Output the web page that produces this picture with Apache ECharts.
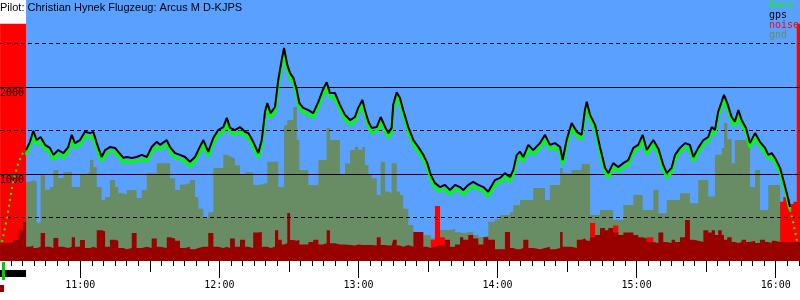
<!DOCTYPE html>
<html><head><meta charset="utf-8">
<script src="https://cdn.jsdelivr.net/npm/echarts@6/dist/echarts.min.js"></script>
<style>html,body{margin:0;padding:0;background:#fff}#c{width:800px;height:300px}</style>
</head><body><div id="c"></div><script>
const titleText = 'Pilot: Christian Hynek Flugzeug: Arcus M D-KJPS';
const legendNames = ['baro', 'gps', 'noise', 'gnd'];

// time axis in minutes after midnight
const xMin = 625.36, xMax = 970.49;
const flightStart = 636.6;
const engineRun = [625.36, 636.6];
const takeoffMark = [626.2, 627.5];
const startMark = [625.36, 627.1];

const times = [
625.4, 626.2, 628.4, 631.1, 633.3, 635.4,
636.6, 638.3, 639.7, 641.2, 642.9, 644.8, 646.9, 648.4, 650.5, 652.7,
654.8, 656.3, 657.7, 659.9, 662.0, 664.2, 665.6, 667.1, 669.2, 670.7,
672.8, 675.0, 676.4, 678.6, 680.0, 682.2, 684.3, 686.5, 688.7, 690.8,
693.0, 694.4, 697.3, 698.7, 700.9, 703.0, 705.2, 707.3, 709.5, 710.9,
713.1, 715.2, 717.4, 719.5, 721.7, 723.2, 724.6, 726.7, 728.9, 731.1,
732.5, 734.6, 736.8, 738.3, 739.7, 740.7, 742.1, 744.0, 745.4, 746.9,
747.9, 749.3, 750.5, 751.9, 753.4, 754.5, 756.2, 758.4, 760.5, 762.7,
764.6, 766.3, 767.7, 769.9, 772.0, 774.2, 776.4, 778.5, 779.9, 781.7,
782.8, 784.3, 785.7, 787.9, 789.6, 791.5, 792.9, 794.3, 795.0, 796.5,
797.9, 799.3, 801.5, 803.7, 805.8, 808.0, 809.7, 811.2, 813.0, 815.2,
817.3, 819.5, 821.7, 823.8, 825.2, 827.4, 829.5, 831.7, 833.9, 836.0,
838.9, 841.1, 843.2, 845.4, 846.8, 848.3, 849.7, 851.1, 853.3, 855.4,
858.3, 860.5, 862.6, 864.8, 867.0, 868.1, 869.8, 872.0, 874.2, 876.3,
877.7, 878.5, 879.9, 882.1, 884.2, 886.4, 887.8, 889.9, 892.1, 894.3,
896.4, 898.6, 900.7, 902.6, 904.4, 907.2, 909.4, 911.5, 913.0, 915.1,
916.6, 918.7, 920.9, 923.0, 924.5, 926.6, 928.8, 930.9, 932.4, 933.8,
935.2, 936.7, 937.7, 939.1, 941.0, 942.4, 943.9, 945.3, 947.2, 948.9,
951.1, 953.2, 955.4, 956.8, 958.3, 959.7, 961.9, 963.3, 964.8, 966.2,
967.6, 969.1, 970.5
];

const gps = [
null, null, null, null, null, null,
1275, 1370, 1495, 1390, 1425, 1335, 1300, 1220, 1275, 1240,
1310, 1450, 1355, 1390, 1485, 1470, 1485, 1355, 1195, 1275,
1310, 1300, 1255, 1185, 1195, 1185, 1195, 1220, 1195, 1310,
1370, 1335, 1390, 1310, 1240, 1220, 1195, 1140, 1195, 1275,
1390, 1255, 1415, 1505, 1540, 1645, 1530, 1505, 1540, 1485,
1470, 1370, 1240, 1390, 1715, 1815, 1700, 1770, 2080, 2310,
2450, 2255, 2160, 2105, 1965, 1815, 1760, 1735, 1700, 1830,
1965, 2055, 1930, 1930, 1795, 1680, 1620, 1655, 1760, 1850,
1735, 1600, 1530, 1540, 1655, 1540, 1470, 1530, 1795, 1940,
1875, 1735, 1540, 1390, 1310, 1220, 1125, 990, 895, 850,
875, 815, 875, 850, 815, 875, 910, 875, 850, 795,
930, 955, 1010, 965, 1045, 1220, 1255, 1195, 1335, 1275,
1355, 1450, 1335, 1355, 1310, 1160, 1390, 1585, 1485, 1450,
1735, 1830, 1680, 1565, 1310, 1070, 1010, 1125, 1080, 1125,
1160, 1300, 1335, 1450, 1275, 1390, 1290, 1105, 1010, 1070,
1220, 1300, 1355, 1335, 1195, 1300, 1390, 1425, 1540, 1505,
1715, 1830, 1910, 1815, 1655, 1600, 1735, 1620, 1530, 1355,
1470, 1370, 1300, 1220, 1240, 1185, 1070, 930, 780, 620,
null, null, null
];

const baro = [
null, null, null, null, null, null,
1225, 1320, 1440, 1340, 1370, 1285, 1250, 1170, 1225, 1190,
1260, 1395, 1305, 1335, 1430, 1420, 1430, 1305, 1145, 1220,
1260, 1250, 1205, 1135, 1145, 1135, 1145, 1170, 1145, 1255,
1315, 1285, 1335, 1260, 1190, 1170, 1145, 1090, 1145, 1225,
1335, 1205, 1360, 1450, 1485, 1590, 1480, 1455, 1485, 1435,
1420, 1320, 1190, 1335, 1660, 1760, 1650, 1715, 2025, 2250,
2390, 2200, 2105, 2050, 1910, 1765, 1710, 1685, 1650, 1775,
1905, 2000, 1880, 1875, 1745, 1630, 1570, 1605, 1710, 1795,
1685, 1550, 1480, 1490, 1600, 1490, 1420, 1480, 1740, 1885,
1820, 1685, 1490, 1340, 1260, 1170, 1075, 940, 845, 800,
825, 765, 825, 800, 765, 825, 860, 825, 800, 745,
880, 905, 960, 915, 995, 1165, 1205, 1145, 1280, 1225,
1300, 1395, 1285, 1305, 1260, 1110, 1335, 1530, 1435, 1400,
1680, 1775, 1630, 1515, 1260, 1020, 960, 1075, 1030, 1075,
1110, 1250, 1285, 1395, 1225, 1335, 1240, 1055, 960, 1020,
1170, 1250, 1305, 1285, 1145, 1250, 1335, 1375, 1485, 1455,
1660, 1775, 1855, 1765, 1605, 1550, 1680, 1570, 1480, 1305,
1420, 1320, 1250, 1170, 1190, 1135, 1020, 885, 740, 590,
null, null, null
];

const gnd = [
null, null, null, null, null, null,
910, 930, 910, 440, 1000, 820, 850, 1045, 955, 1020,
1030, 850, 850, 1000, 1020, 1160, 1080, 850, 700, 735,
930, 850, 780, 760, 815, 815, 725, 815, 1010, 1010,
1125, 1125, 1125, 950, 815, 880, 895, 930, 735, 600,
495, 560, 1070, 1070, 1220, 1200, 1180, 1100, 990, 1020,
1020, 875, 880, 895, 895, 1140, 1140, 1140, 850, 850,
1560, 1620, 1620, 1770, 1390, 1045, 1045, 875, 875, 1160,
1160, 1530, 1390, 1390, 1000, 1125, 1275, 1310, 1275, 1310,
1100, 990, 950, 760, 1140, 800, 780, 1125, 1125, 800,
760, 600, 415, 300, 240, 300, 300, 260, 280, 355,
355, 370, 330, 320, 330, 340, 300, 275, 290, 450,
480, 530, 530, 560, 645, 645, 700, 700, 700, 840,
840, 700, 875, 875, 1070, 1010, 1010, 1045, 1045, 1115,
1115, 1115, 530, 530, 585, 585, 585, 470, 470, 645,
645, 760, 760, 585, 585, 815, 550, 550, 700, 700,
700, 780, 780, 665, 665, 930, 930, 740, 740, 1220,
1220, 1300, 1585, 1400, 1125, 1390, 1390, 1390, 1390, 850,
1045, 585, 585, 875, 875, 875, 400, 400, 400, 400,
400, 400, null
];

// noise on its own 0..1100 scale
const noise = [
76, 76, 76, 88, 130, 164,
60, 65, 55, 60, 118, 60, 55, 97, 60, 55,
60, 100, 60, 88, 55, 60, 55, 130, 125, 60,
90, 85, 55, 50, 55, 118, 55, 60, 55, 95,
60, 55, 100, 95, 85, 55, 60, 50, 55, 60,
60, 118, 60, 55, 60, 55, 95, 60, 90, 60,
55, 120, 122, 60, 60, 55, 60, 130, 90, 70,
75, 202, 88, 85, 88, 70, 70, 80, 90, 70,
75, 130, 75, 70, 70, 67, 65, 70, 67, 67,
67, 67, 65, 100, 67, 65, 65, 67, 90, 65,
60, 67, 60, 122, 122, 60, 55, 60, 65, 70,
90, 60, 70, 100, 90, 110, 95, 70, 100, 90,
50, 50, 122, 55, 50, 50, 55, 90, 55, 50,
55, 60, 50, 55, 122, 60, 60, 55, 90, 95,
90, 85, 100, 110, 139, 130, 139, 120, 110, 120,
120, 110, 100, 95, 80, 76, 120, 80, 76, 90,
80, 100, 173, 90, 85, 80, 130, 120, 130, 110,
130, 110, 90, 100, 80, 76, 80, 90, 80, 85,
76, 90, 80, 76, 85, 80, 80, 80, 80, 80,
80, 80, 80
];

const noiseHigh = [
1000, 1000, 1000, 1000, 1000, 1000,
0, 0, 0, 0, 0, 0, 0, 0, 0, 0,
0, 0, 0, 0, 0, 0, 0, 0, 0, 0,
0, 0, 0, 0, 0, 0, 0, 0, 0, 0,
0, 0, 0, 0, 0, 0, 0, 0, 0, 0,
0, 0, 0, 0, 0, 0, 0, 0, 0, 0,
0, 0, 0, 0, 0, 0, 0, 0, 0, 0,
0, 0, 0, 0, 0, 0, 0, 0, 0, 0,
0, 0, 0, 0, 0, 0, 0, 0, 0, 0,
0, 0, 0, 0, 0, 0, 0, 0, 0, 0,
0, 0, 0, 0, 0, 0, 0, 90, 232, 100,
80, 0, 0, 0, 0, 0, 0, 0, 0, 0,
0, 0, 0, 0, 0, 0, 0, 0, 0, 0,
0, 0, 0, 0, 0, 0, 0, 0, 0, 0,
0, 0, 160, 0, 0, 0, 0, 150, 0, 0,
0, 0, 0, 0, 100, 0, 0, 0, 0, 0,
0, 0, 0, 0, 0, 0, 0, 0, 0, 0,
0, 0, 0, 0, 0, 0, 0, 0, 0, 0,
0, 0, 0, 0, 0, 0, 250, 270, 260, 240,
250, 1000, 0
];

const climbTimes = [626.2, 628.4, 631.1, 633.3, 635.4, 636.6];
const climbBaro = [218, 494, 931, 1126, 1253, 1225];
const landTimes = [966.2, 967.6, 969.1, 970.5];
const landBaro = [590, 437, 241, 230];

const minorTicks = [630, 635, 640, 645, 650, 655, 660, 665, 670, 675, 680, 685, 690, 695, 700, 705, 710, 715, 720, 725, 730, 735, 740, 745, 750, 755, 760, 765, 770, 775, 780, 785, 790, 795, 800, 805, 810, 815, 820, 825, 830, 835, 840, 845, 850, 855, 860, 865, 870, 875, 880, 885, 890, 895, 900, 905, 910, 915, 920, 925, 930, 935, 940, 945, 950, 955, 960, 965, 970];
const halfHourTicks = [690, 750, 810, 870, 930];
const hourTicks = [660, 720, 780, 840, 900, 960];
const altLabels = [1000, 2000];

const mono = 'DejaVu Sans Mono';
const fmtTime = v => { const h = Math.floor(v / 60), m = Math.round(v % 60); return h + ':' + (m < 10 ? '0' : '') + m; };
const pair = arr => times.map((t, i) => [t, arr[i]]);

const chart = echarts.init(document.getElementById('c'), null, {renderer: 'canvas'});
const baseX = {type: 'value', min: xMin, max: xMax, position: 'bottom', axisLine: {show: false}, splitLine: {show: false}};
chart.setOption({
  animation: false,
  backgroundColor: '#fff',
  title: {text: titleText, left: 0, top: 2, padding: 0, z: 20,
    textStyle: {fontSize: 11, fontWeight: 'normal', fontFamily: 'Liberation Sans', color: '#000'}},
  legend: {orient: 'vertical', left: 764, top: 0, padding: 0, itemGap: 0, itemWidth: 0, itemHeight: 10,
    icon: 'rect', selectedMode: false, z: 20,
    textStyle: {fontFamily: mono, fontSize: 10, lineHeight: 10, padding: 0},
    data: [
      {name: legendNames[0], textStyle: {color: '#00ff00'}},
      {name: legendNames[1], textStyle: {color: '#000000'}},
      {name: legendNames[2], textStyle: {color: '#ff0000'}},
      {name: legendNames[3], textStyle: {color: '#688c64'}}
    ]},
  grid: {left: 0, right: 0, top: 0, bottom: 39, containLabel: false, outerBoundsMode: 'none'},
  xAxis: [
    Object.assign({}, baseX, {axisTick: {show: true, length: 5, customValues: minorTicks, lineStyle: {color: '#000'}}, axisLabel: {show: false}}),
    Object.assign({}, baseX, {axisTick: {show: true, length: 11, customValues: halfHourTicks, lineStyle: {color: '#000'}}, axisLabel: {show: false}}),
    Object.assign({}, baseX, {axisTick: {show: true, length: 17, customValues: hourTicks, lineStyle: {color: '#000'}},
      axisLabel: {show: true, customValues: hourTicks, margin: 19, formatter: fmtTime, fontFamily: mono, fontSize: 10, color: '#000'}})
  ],
  yAxis: [
    {type: 'value', min: 0, max: 3000, interval: 1000, z: 5,
      axisLine: {show: false}, axisTick: {show: false},
      splitLine: {show: true, showMinLine: false, showMaxLine: false, lineStyle: {color: '#000', width: 1, type: 'solid'}},
      axisLabel: {inside: true, margin: 0, lineHeight: 12, fontFamily: mono, fontSize: 10, color: '#000',
        formatter: v => altLabels.indexOf(v) >= 0 ? '\n' + v : ''}},
    {type: 'value', min: 0, max: 3000, interval: 500, z: 4,
      axisLine: {show: false}, axisTick: {show: false}, axisLabel: {show: false},
      splitLine: {show: true, showMinLine: false, showMaxLine: false, lineStyle: {color: '#000', width: 1, type: [4, 3]}}},
    {type: 'value', min: 0, max: 1100, show: false, splitLine: {show: false}}
  ],
  series: [
    {name: 'sky', type: 'line', data: [[flightStart, 0]], symbol: 'none', lineStyle: {width: 0}, z: 1, silent: true,
      markArea: {silent: true, itemStyle: {color: '#5aa0ff', opacity: 1},
        data: [[{coord: [flightStart, 0]}, {coord: [xMax, 3000]}]]}},
    {name: 'gnd', type: 'line', step: 'end', data: pair(gnd), symbol: 'none', z: 2, silent: true,
      color: '#688c64', lineStyle: {width: 0}, areaStyle: {color: '#688c64', opacity: 1}},
    {name: 'noise', type: 'line', step: 'end', yAxisIndex: 2, data: pair(noiseHigh), symbol: 'none', z: 3, silent: true,
      color: '#ff0000', lineStyle: {width: 0}, areaStyle: {color: '#ff0000', opacity: 1}},
    {name: 'noiseLow', type: 'line', step: 'end', yAxisIndex: 2, data: pair(noise), symbol: 'none', z: 3, silent: true,
      color: '#990000', lineStyle: {width: 0}, areaStyle: {color: '#990000', opacity: 1}},
    {name: 'baro', type: 'line', data: pair(baro), symbol: 'none', z: 6, silent: true, color: '#00ff00',
      lineStyle: {color: '#00ff00', width: 3}},
    {name: 'baroClimb', type: 'line', data: climbTimes.map((t, i) => [t, climbBaro[i]]), symbol: 'none', z: 6, silent: true,
      lineStyle: {color: '#00ff00', width: 2, type: [2, 4]}},
    {name: 'baroLand', type: 'line', data: landTimes.map((t, i) => [t, landBaro[i]]), symbol: 'none', z: 6, silent: true,
      lineStyle: {color: '#00ff00', width: 2, type: [2, 4]}},
    {name: 'gps', type: 'line', data: pair(gps), symbol: 'none', z: 7, silent: true, color: '#000',
      lineStyle: {color: '#000', width: 2}}
  ]
});

const px = t => chart.convertToPixel({xAxisIndex: 0}, t);
chart.setOption({graphic: [
  {type: 'rect', shape: {x: px(engineRun[0]), y: 270, width: px(engineRun[1]) - px(engineRun[0]), height: 7}, style: {fill: '#000'}, z: 10},
  {type: 'rect', shape: {x: px(takeoffMark[0]), y: 262, width: px(takeoffMark[1]) - px(takeoffMark[0]), height: 18}, style: {fill: '#00cc00'}, z: 11},
  {type: 'rect', shape: {x: px(startMark[0]), y: 285, width: px(startMark[1]) - px(startMark[0]), height: 7}, style: {fill: '#990000'}, z: 10}
]});
</script></body></html>
